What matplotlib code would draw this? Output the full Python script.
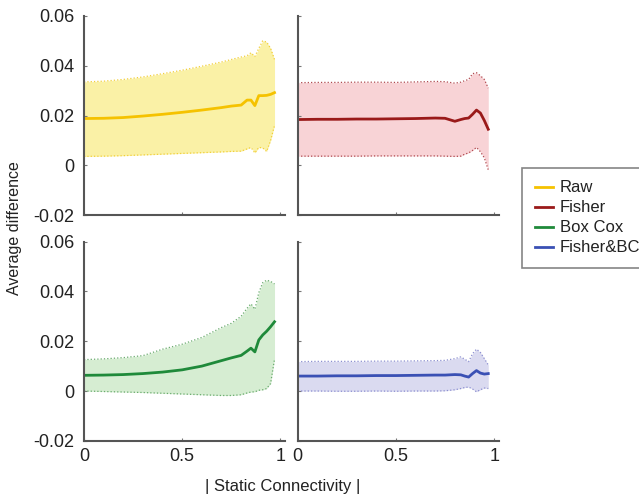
import matplotlib
matplotlib.use('Agg')
import matplotlib.pyplot as plt
import numpy as np

plt.rcParams['font.family'] = ['Liberation Sans', 'DejaVu Sans']

# |static connectivity| (shared grid)
conn = [0, 0.1, 0.2, 0.3, 0.4, 0.5, 0.6, 0.7, 0.75, 0.8, 0.83, 0.85, 0.87, 0.89, 0.91, 0.93, 0.95, 0.97]

raw_mean = [.0188, .0189, .0192, .0198, .0205, .0213, .0222, .0232, .0238, .0242, .0262, .0262, .0240, .0280, .0280, .0281, .0285, .0292]
raw_hi = [.0335, .0338, .0345, .0355, .0368, .0382, .0398, .0415, .0425, .0435, .0440, .0452, .0437, .0470, .0500, .0495, .0470, .0425]
raw_lo = [.0036, .0037, .0039, .0042, .0045, .0048, .0051, .0054, .0056, .0057, .0066, .0072, .0050, .0072, .0070, .0056, .0100, .0160]

fis_mean = [.0184, .0185, .0185, .0186, .0186, .0187, .0188, .0190, .0189, .0177, .0184, .0188, .0190, .0205, .0222, .0210, .0180, .0145]
fis_hi = [.0332, .0333, .0333, .0334, .0334, .0333, .0335, .0337, .0336, .0330, .0334, .0340, .0345, .0368, .0372, .0360, .0345, .0310]
fis_lo = [.0037, .0037, .0037, .0037, .0038, .0038, .0038, .0038, .0037, .0036, .0037, .0045, .0050, .0060, .0072, .0055, .0030, -.0018]

bc_mean = [.0063, .0064, .0066, .0070, .0076, .0085, .0100, .0122, .0133, .0143, .0160, .0172, .0157, .0205, .0225, .0240, .0258, .0278]
bc_hi = [.0126, .0129, .0134, .0142, .0168, .0188, .0215, .0255, .0272, .0300, .0332, .0350, .0328, .0395, .0435, .0445, .0440, .0430]
bc_lo = [.0000, -.0002, -.0004, -.0006, -.0009, -.0012, -.0015, -.0018, -.0018, -.0015, -.0008, -.0004, -.0003, .0003, .0005, .0010, .0030, .0128]

fbc_mean = [.0060, .0060, .0061, .0061, .0062, .0062, .0063, .0064, .0064, .0066, .0065, .0060, .0056, .0070, .0082, .0072, .0068, .0070]
fbc_hi = [.0118, .0119, .0119, .0119, .0120, .0120, .0121, .0122, .0123, .0130, .0137, .0128, .0118, .0150, .0168, .0155, .0130, .0105]
fbc_lo = [.0000, .0000, -.0001, -.0001, .0000, -.0001, .0000, .0000, .0001, .0005, .0010, .0014, .0016, .0008, -.0003, .0005, .0012, .0010]

labels = ['Raw', 'Fisher', 'Box Cox', 'Fisher&BC']
line_colors = ['#f5c200', '#9a1a1a', '#1f8a3a', '#3a50b4']
fill_colors = ['#faf1a6', '#f8d3d6', '#d6edd2', '#dadaf0']
edge_colors = ['#f2cf3a', '#b0494f', '#6aab6e', '#8c8fd0']

series = [(raw_mean, raw_hi, raw_lo), (fis_mean, fis_hi, fis_lo),
          (bc_mean, bc_hi, bc_lo), (fbc_mean, fbc_hi, fbc_lo)]

fig = plt.figure(figsize=(6.39, 4.97), dpi=100)
boxes = [(0.1315, 0.567), (0.466, 0.567), (0.1315, 0.113), (0.466, 0.113)]
w, h = 0.315, 0.401

handles = []
for i, (mean, hi, lo) in enumerate(series):
    ax = fig.add_axes([boxes[i][0], boxes[i][1], w, h])
    ax.fill_between(conn, lo, hi, color=fill_colors[i], linewidth=0)
    ax.plot(conn, hi, color=edge_colors[i], linestyle=':', linewidth=0.9)
    ax.plot(conn, lo, color=edge_colors[i], linestyle=':', linewidth=0.9)
    ln, = ax.plot(conn, mean, color=line_colors[i], linewidth=2.0, label=labels[i])
    handles.append(ln)

    ax.set_xlim(0, 1.025)
    ax.set_ylim(-0.02, 0.06)
    ax.set_xticks([0, 0.5, 1])
    ax.set_yticks([-0.02, 0, 0.02, 0.04, 0.06])
    for s in ['top', 'right']:
        ax.spines[s].set_visible(False)
    for s in ['left', 'bottom']:
        ax.spines[s].set_color('#555555')
        ax.spines[s].set_linewidth(1.5)
    ax.tick_params(direction='in', length=2, width=0.8, color='#777777',
                   labelsize=13, labelcolor='#222222')
    ax.tick_params(axis='y', pad=7)
    ax.tick_params(axis='x', pad=5)
    ax.set_yticklabels(['-0.02', '0', '0.02', '0.04', '0.06'])
    ax.set_xticklabels(['0', '0.5', '1'])
    if i < 2:
        ax.tick_params(axis='x', labelbottom=False)
    if i % 2 == 1:
        ax.tick_params(axis='y', labelleft=False)

fig.text(15 / 639, 1 - 228 / 497, 'Average difference', rotation=90,
         ha='center', va='center', fontsize=11.5, color='#222222')
fig.text(283 / 639, 1 - 487 / 497, '| Static Connectivity |',
         ha='center', va='center', fontsize=12, color='#222222')

leg = fig.legend(handles, labels, loc='upper left', bbox_to_anchor=(522 / 639, 1 - 168 / 497),
                 fontsize=12, frameon=True, fancybox=False, handlelength=1.1,
                 handletextpad=0.4, labelspacing=0.3, borderpad=0.75, borderaxespad=0)
leg.get_frame().set_edgecolor('#666666')
leg.get_frame().set_linewidth(1.2)
for t in leg.get_texts():
    t.set_color('#222222')

fig.savefig('out.png', dpi=100)
